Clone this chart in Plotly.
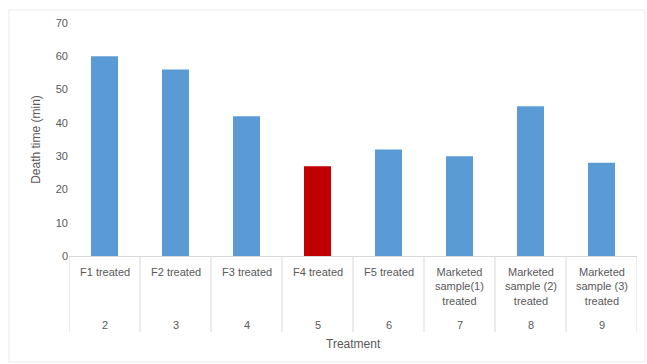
import plotly.graph_objects as go

# Treatment groups, their index and the measured death time
labels = ["F1 treated", "F2 treated", "F3 treated", "F4 treated", "F5 treated",
          "Marketed<br>sample(1)<br>treated", "Marketed<br>sample (2)<br>treated",
          "Marketed<br>sample (3)<br>treated"]
groups = ["2", "3", "4", "5", "6", "7", "8", "9"]
death_time = [60, 56, 42, 27, 32, 30, 45, 28]
highlight = "5"

BLUE = "#5b9bd5"
RED = "#c00000"
TXT = "#595959"
LINE = "#d9d9d9"
FONT = "Liberation Sans"

W, H = 647, 364
ML, MR, MT, MB = 69, 10, 23, 108
pw = W - ML - MR
ph = H - MT - MB

colors = [RED if g == highlight else BLUE for g in groups]
xs = list(range(len(groups)))

fig = go.Figure(go.Bar(x=xs, y=death_time, marker_color=colors,
                       marker_line_width=0, width=0.38))

shapes = []
# category dividers below the axis
for i in range(len(groups) + 1):
    shapes.append(dict(type="line", xref="x", yref="paper",
                       x0=i - 0.5, x1=i - 0.5, y0=0, y1=-76 / ph,
                       line=dict(color=LINE, width=1)))
# outer chart border
shapes.append(dict(type="rect", xref="paper", yref="paper",
                   x0=(9 - ML) / pw, x1=(645 - ML) / pw,
                   y0=(MT + ph - 362) / ph, y1=(MT + ph - 10) / ph,
                   line=dict(color="#ebebeb", width=1), fillcolor="rgba(0,0,0,0)",
                   layer="below"))

annotations = []
for i, (lab, g) in enumerate(zip(labels, groups)):
    annotations.append(dict(x=i, y=0, xref="x", yref="paper", text=lab,
                            showarrow=False, yanchor="top", yshift=-8,
                            font=dict(family=FONT, size=11, color=TXT)))
    annotations.append(dict(x=i, y=0, xref="x", yref="paper", text=g,
                            showarrow=False, yanchor="middle", yshift=-69,
                            font=dict(family=FONT, size=11, color=TXT)))
annotations.append(dict(x=0.5, y=0, xref="paper", yref="paper", text="Treatment",
                        showarrow=False, yanchor="middle", yshift=-88,
                        font=dict(family=FONT, size=12, color=TXT)))

fig.update_layout(
    width=W, height=H,
    margin=dict(l=ML, r=MR, t=MT, b=MB),
    paper_bgcolor="white", plot_bgcolor="white",
    showlegend=False,
    bargap=0.62,
    xaxis=dict(range=[-0.5, len(groups) - 0.5], showticklabels=False,
               showgrid=False, zeroline=False, showline=True,
               linecolor=LINE, linewidth=1, ticks=""),
    yaxis=dict(range=[0, 70], dtick=10, showgrid=False, zeroline=False,
               showline=False, ticks="",
               tickfont=dict(family=FONT, size=11, color=TXT),
               title=dict(text="Death time (min)", standoff=12,
                          font=dict(family=FONT, size=12, color=TXT))),
    shapes=shapes,
    annotations=annotations,
)

fig.write_html("out.html")
